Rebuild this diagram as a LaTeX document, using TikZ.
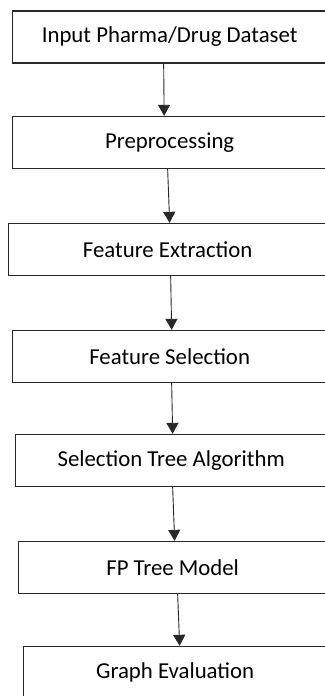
\documentclass[tikz,border=0pt]{standalone}
\usepackage{fontspec}
\setmainfont{Carlito}
\usepackage{tikz}
\usetikzlibrary{arrows.meta,positioning}
\definecolor{boxline}{RGB}{40,40,40}

\begin{document}
\begin{tikzpicture}[
    x=1pt, y=-1pt,
    stepbox/.style={rectangle, draw=boxline, line width=1.3pt, anchor=west, minimum height=52pt, inner sep=0pt, font=\fontsize{22.8}{27}\selectfont},
    flow/.style={-{Triangle[width=12pt,length=11pt]}, line width=0.9pt, draw=boxline}
]
    \useasboundingbox (0,0) rectangle (324,696);

    % Process steps
    \node[stepbox, minimum width=314pt] (inp) at (12,37) {Input Pharma/Drug Dataset};
    \node[stepbox, minimum width=314pt] (pre) at (12,142.5) {Preprocessing};
    \node[stepbox, minimum width=318pt] (fext) at (8,249.5) {Feature Extraction};
    \node[stepbox, minimum width=314pt] (fsel) at (12,356.5) {Feature Selection};
    \node[stepbox, minimum width=311pt] (sta) at (15,460.5) {Selection Tree Algorithm};
    \node[stepbox, minimum width=308pt] (fpt) at (18,567.5) {FP Tree Model};
    \node[stepbox, minimum width=303pt] (geval) at (23,672.5) {Graph Evaluation};

    % Flow between steps
    \draw[flow] ([xshift=-6pt]inp.south) -- ([xshift=-5.5pt]pre.north);
    \draw[flow] ([xshift=-2pt]pre.south) -- ([xshift=2pt]fext.north);
    \draw[flow] ([xshift=3pt]fext.south) -- ([xshift=2pt]fsel.north);
    \draw[flow] ([xshift=2pt]fsel.south) -- ([xshift=1.5pt]sta.north);
    \draw[flow] ([xshift=1.5pt]sta.south) -- ([xshift=2pt]fpt.north);
    \draw[flow] ([xshift=5pt]fpt.south) -- ([xshift=4.5pt]geval.north);
\end{tikzpicture}
\end{document}
